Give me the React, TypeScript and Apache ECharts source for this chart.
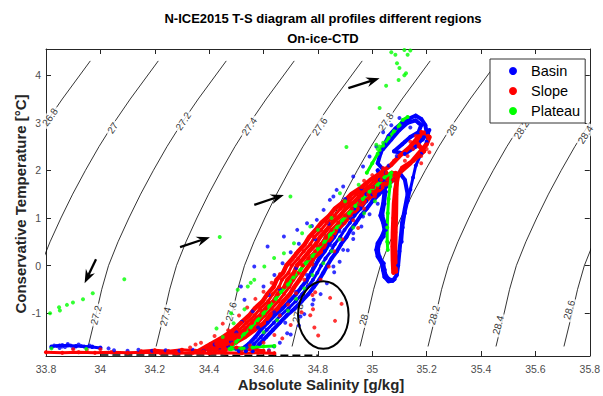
import { useEffect, useRef } from 'react';
import * as echarts from 'echarts';

const FONT = '"Liberation Sans", Arial, Helvetica, sans-serif';
const BLUE = '#0000ff';
const RED = '#ff0000';
const GREEN = '#00ff00';

const titleLines = ['N-ICE2015 T-S diagram all profiles different regions', 'On-ice-CTD'];
const xAxisTitle = 'Absolute Salinity [g/kg]';
const yAxisTitle = 'Conservative Temperature [°C]';
const seriesNames = ['Basin', 'Slope', 'Plateau'];

const xRange = [33.8, 35.8];
const yRange = [-1.9, 4.55];
const xTicks = [33.8, 34, 34.2, 34.4, 34.6, 34.8, 35, 35.2, 35.4, 35.6, 35.8];
const yTicks = [-1, 0, 1, 2, 3, 4];

// isopycnal contours (sigma0): salinity at each temperature of contourT
const contourT = [-1.7, -1.0, -0.5, 0, 0.5, 1, 1.5, 2, 2.5, 3, 3.5, 4.3];
const iso268 = [33.455, 33.485, 33.505, 33.53, 33.565, 33.605, 33.648, 33.695, 33.745, 33.8, 33.86, 33.963];
const iso270 = [33.705, 33.735, 33.755, 33.78, 33.815, 33.855, 33.898, 33.945, 33.995, 34.05, 34.11, 34.213];
const iso272 = [33.955, 33.985, 34.005, 34.03, 34.065, 34.105, 34.148, 34.195, 34.245, 34.3, 34.36, 34.463];
const iso274 = [34.205, 34.235, 34.255, 34.28, 34.315, 34.355, 34.398, 34.445, 34.495, 34.55, 34.61, 34.713];
const iso276 = [34.455, 34.485, 34.505, 34.53, 34.565, 34.605, 34.648, 34.695, 34.745, 34.8, 34.86, 34.963];
const iso278 = [34.705, 34.735, 34.755, 34.78, 34.815, 34.855, 34.898, 34.945, 34.995, 35.05, 35.11, 35.213];
const iso280 = [34.955, 34.985, 35.005, 35.03, 35.065, 35.105, 35.148, 35.195, 35.245, 35.3, 35.36, 35.463];
const iso282 = [35.205, 35.235, 35.255, 35.28, 35.315, 35.355, 35.398, 35.445, 35.495, 35.55, 35.61, 35.713];
const iso284 = [35.455, 35.485, 35.505, 35.53, 35.565, 35.605, 35.648, 35.695, 35.745, 35.8, 35.86, 35.963];
const iso286 = [35.705, 35.735, 35.755, 35.78, 35.815, 35.855, 35.898, 35.945, 35.995, 36.05, 36.11, 36.213];
const isoLines = [iso268, iso270, iso272, iso274, iso276, iso278, iso280, iso282, iso284, iso286];

// contour labels: [text, S, T, rotation in degrees]
const contourLabels: [string, number, number, number][] = [
  ['26.8', 33.815, 3.12, 55],
  ['27', 34.045, 2.89, 56],
  ['27.2', 34.305, 3.03, 56],
  ['27.4', 34.548, 2.92, 56],
  ['27.6', 34.807, 2.92, 56],
  ['27.8', 35.05, 3.02, 56],
  ['28', 35.293, 2.85, 57],
  ['28.2', 35.548, 2.85, 57],
  ['28.4', 35.784, 2.75, 57],
  ['27.2', 33.984, -1.04, 75],
  ['27.4', 34.239, -1.07, 75],
  ['27.6', 34.481, -0.97, 75],
  ['27.8', 34.726, -1.0, 75],
  ['28', 34.968, -1.14, 75],
  ['28.2', 35.227, -1.04, 75],
  ['28.4', 35.463, -1.25, 75],
  ['28.6', 35.724, -0.93, 74],
];

// freezing line (dashed)
const freezingLine = [[34.0, -1.877], [34.8, -1.885]];

// annotations
const arrows = [
  [33.984, 0.134, 33.942, -0.37],
  [34.293, 0.387, 34.403, 0.597],
  [34.566, 1.275, 34.675, 1.485],
  [34.912, 3.727, 35.027, 3.937],
];
const ellipseCenter = [34.82, -1.04];
const ellipseRadius = [0.093, 0.71];

// ---------------- Basin (blue) ----------------
const basinSurfaceBlob = [
  [33.82, -1.72], [33.84, -1.69], [33.86, -1.67], [33.87, -1.71], [33.89, -1.68], [33.91, -1.7],
  [33.93, -1.69], [33.95, -1.71], [33.97, -1.7], [34.0, -1.72], [34.03, -1.74], [33.85, -1.73],
  [33.88, -1.65], [33.9, -1.73], [33.83, -1.68], [33.92, -1.66], [33.96, -1.68], [33.86, -1.7],
];
const basinSurfaceLine = [
  [33.82, -1.7], [33.85, -1.68], [33.88, -1.68], [33.91, -1.69], [33.94, -1.7], [33.97, -1.71], [34.0, -1.73],
];
const basinA = [
  [34.51, -1.8], [34.545, -1.65], [34.57, -1.5], [34.59, -1.35], [34.615, -1.2], [34.64, -1.05], [34.67, -0.9],
  [34.695, -0.75], [34.72, -0.6], [34.74, -0.45], [34.76, -0.3], [34.775, -0.15], [34.79, 0.0], [34.805, 0.15],
  [34.825, 0.3], [34.84, 0.45], [34.86, 0.6], [34.875, 0.75], [34.895, 0.9], [34.912, 1.05], [34.935, 1.2],
  [34.955, 1.35], [34.978, 1.5], [35.003, 1.65], [35.028, 1.8], [35.05, 1.95], [35.02, 2.15], [35.03, 2.35],
  [35.045, 2.55], [35.06, 2.72], [35.085, 2.88], [35.11, 3.0], [35.14, 3.1], [35.16, 3.15], [35.18, 3.08],
  [35.195, 2.95], [35.2, 2.8], [35.185, 2.65],
];
const basinAB = [
  [34.535, -1.8], [34.565, -1.65], [34.59, -1.5], [34.612, -1.35], [34.638, -1.2], [34.662, -1.05], [34.692, -0.9],
  [34.718, -0.75], [34.742, -0.6], [34.762, -0.45], [34.782, -0.3], [34.798, -0.15], [34.812, 0.0], [34.828, 0.15],
  [34.848, 0.3], [34.862, 0.45], [34.882, 0.6], [34.898, 0.75], [34.918, 0.9], [34.935, 1.05], [34.958, 1.2],
  [34.978, 1.35], [35.0, 1.5], [35.027, 1.65], [35.052, 1.8],
];
const basinB = [
  [34.56, -1.8], [34.585, -1.65], [34.61, -1.5], [34.635, -1.35], [34.66, -1.2], [34.685, -1.05], [34.715, -0.9],
  [34.74, -0.75], [34.765, -0.6], [34.785, -0.45], [34.805, -0.3], [34.82, -0.15], [34.835, 0.0], [34.85, 0.15],
  [34.87, 0.3], [34.885, 0.45], [34.905, 0.6], [34.92, 0.75], [34.94, 0.9], [34.958, 1.05], [34.98, 1.2],
  [35.0, 1.35], [35.025, 1.5], [35.05, 1.65], [35.077, 1.8], [35.1, 1.95], [35.12, 1.8], [35.13, 1.5],
  [35.12, 1.2], [35.11, 0.9], [35.105, 0.6], [35.1, 0.3], [35.095, 0.0], [35.09, -0.2], [35.075, -0.32],
  [35.06, -0.33], [35.045, -0.24], [35.04, -0.1], [35.035, 0.05], [35.02, 0.19], [35.015, 0.33], [35.02, 0.47],
  [35.035, 0.61], [35.045, 0.75], [35.04, 0.9], [35.03, 1.05], [35.04, 1.3], [35.045, 1.55], [35.035, 1.8], [35.02, 2.0],
];
const basinWiggle = [
  [35.04, 1.8], [35.05, 1.55], [35.045, 1.3], [35.038, 1.05], [35.05, 0.85], [35.05, 0.75], [35.042, 0.61],
  [35.027, 0.47], [35.022, 0.33], [35.027, 0.19], [35.042, 0.05], [35.046, -0.09], [35.052, -0.22], [35.068, -0.3],
  [35.082, -0.29],
];
const basinTopFill = [
  [35.04, 2.45], [35.07, 2.65], [35.1, 2.85], [35.13, 3.0], [35.16, 3.05], [35.18, 2.95], [35.17, 2.8],
  [35.14, 2.7], [35.11, 2.55], [35.08, 2.4], [35.12, 2.35], [35.16, 2.5], [35.19, 2.7],
];
const basinRight = [
  [35.21, 2.85], [35.2, 2.6], [35.18, 2.35], [35.16, 2.1], [35.15, 1.85], [35.14, 1.6], [35.13, 1.35],
  [35.12, 1.1], [35.112, 0.8], [35.108, 0.5],
];
const basinScatter = [
  [34.517, -0.44], [34.566, -0.02], [34.615, 0.4], [34.675, 0.61], [34.724, 0.75], [34.76, 0.89], [34.821, 1.17],
  [34.857, 1.45], [34.893, 1.66], [34.93, 1.87], [34.966, 2.08], [34.99, 2.29], [35.015, 2.5], [34.48, -1.6],
  [34.5, -1.4], [34.52, -1.18], [34.53, -0.72], [34.56, -0.96], [34.6, -0.44], [34.62, -0.62], [34.64, -0.2],
  [34.67, 0.05], [34.7, 0.28], [34.73, 0.46], [34.778, 0.83], [34.796, 0.96], [34.844, 1.38], [34.869, 1.59],
  [34.857, -0.02], [34.833, -0.37], [34.784, -0.72], [34.736, -1.07], [34.687, -1.42], [34.639, -1.7],
  [34.893, 0.33], [34.93, 0.68], [34.966, 1.03], [35.003, 1.38], [34.62, -1.78], [34.66, -1.62], [34.7, -1.45],
  [34.73, -1.26], [34.75, -1.02], [34.78, -0.82], [34.81, -0.6], [34.86, -0.14], [34.88, 0.08], [34.91, 0.32],
  [34.93, 0.56], [34.96, 0.82], [34.99, 1.08], [35.02, 1.3], [34.68, -1.2], [34.72, -0.55], [34.76, -0.2],
  [34.8, 0.1], [34.85, 0.42], [34.88, 0.72], [34.92, 1.0], [34.95, 1.22], [34.58, -1.3], [34.64, -0.98],
  [34.66, -0.5], [34.72, -0.05], [34.79, 0.55], [34.84, 0.88], [34.9, 1.4], [34.96, 1.62], [35.06, 2.1],
  [35.09, 2.3], [35.12, 2.6], [35.14, 2.9], [35.04, 2.8], [35.07, 2.95], [35.1, 3.1], [35.17, 3.0],
  [34.05, -1.78], [34.1, -1.79], [34.14, -1.77], [34.19, -1.79], [34.24, -1.78], [34.29, -1.79], [34.34, -1.77],
  [34.38, -1.79], [34.44, -1.78], [34.5, -1.76], [34.54, -1.72], [34.47, -1.7], [34.42, -1.66], [34.4, -1.75],
];

// ---------------- Slope (red) ----------------
const slopeSurface = [
  [33.8, -1.82], [33.86, -1.83], [33.92, -1.82], [33.98, -1.83], [34.04, -1.82], [34.1, -1.83], [34.16, -1.82],
  [34.22, -1.83], [34.28, -1.84], [34.34, -1.83], [34.4, -1.84], [34.46, -1.83], [34.52, -1.84], [34.58, -1.83],
  [34.64, -1.84],
];
const slopeSurface2 = [
  [34.15, -1.8], [34.2, -1.78], [34.25, -1.8], [34.3, -1.77], [34.35, -1.79], [34.4, -1.75], [34.45, -1.78],
  [34.5, -1.72], [34.55, -1.76], [34.6, -1.79],
];
const slopeA = [
  [34.36, -1.8], [34.405, -1.65], [34.452, -1.5], [34.49, -1.35], [34.518, -1.2], [34.547, -1.05], [34.568, -0.9],
  [34.597, -0.75], [34.614, -0.6], [34.637, -0.45], [34.648, -0.3], [34.672, -0.15], [34.684, 0.0], [34.707, 0.15],
  [34.728, 0.3], [34.752, 0.45], [34.768, 0.6], [34.792, 0.75], [34.813, 0.9], [34.842, 1.05], [34.863, 1.2],
  [34.897, 1.35], [34.923, 1.5], [34.962, 1.65], [34.993, 1.8], [35.032, 1.95], [35.07, 2.12], [35.1, 2.3],
  [35.14, 2.5], [35.17, 2.7], [35.19, 2.78],
];
const slopeAB = [
  [34.38, -1.8], [34.426, -1.65], [34.47, -1.5], [34.511, -1.35], [34.538, -1.2], [34.567, -1.05], [34.588, -0.9],
  [34.617, -0.75], [34.634, -0.6], [34.657, -0.45], [34.668, -0.3], [34.692, -0.15], [34.704, 0.0], [34.727, 0.15],
  [34.748, 0.3], [34.772, 0.45], [34.788, 0.6], [34.812, 0.75], [34.833, 0.9], [34.862, 1.05], [34.883, 1.2],
  [34.917, 1.35], [34.943, 1.5], [34.982, 1.65], [35.013, 1.8], [35.052, 1.95],
];
const slopeB = [
  [34.4, -1.8], [34.447, -1.65], [34.488, -1.5], [34.532, -1.35], [34.558, -1.2], [34.587, -1.05], [34.608, -0.9],
  [34.637, -0.75], [34.653, -0.6], [34.677, -0.45], [34.688, -0.3], [34.712, -0.15], [34.723, 0.0], [34.747, 0.15],
  [34.768, 0.3], [34.792, 0.45], [34.808, 0.6], [34.832, 0.75], [34.853, 0.9], [34.882, 1.05], [34.903, 1.2],
  [34.937, 1.35], [34.963, 1.5], [35.002, 1.65], [35.033, 1.8], [35.072, 1.95], [35.095, 1.9], [35.085, 1.6],
  [35.08, 1.3], [35.078, 1.0], [35.076, 0.7], [35.075, 0.4], [35.076, 0.1], [35.078, -0.15],
];
const slopeBC = [
  [34.42, -1.8], [34.466, -1.65], [34.51, -1.5], [34.55, -1.35], [34.58, -1.2], [34.605, -1.05], [34.63, -0.9],
  [34.655, -0.75], [34.675, -0.6], [34.695, -0.45], [34.71, -0.3], [34.73, -0.15], [34.745, 0.0], [34.765, 0.15],
  [34.79, 0.3], [34.81, 0.45], [34.83, 0.6], [34.85, 0.75], [34.875, 0.9], [34.9, 1.05], [34.925, 1.2],
  [34.955, 1.35], [34.985, 1.5], [35.02, 1.65], [35.055, 1.8], [35.086, 1.95],
];
const slopeC = [
  [34.44, -1.8], [34.485, -1.65], [34.532, -1.5], [34.568, -1.35], [34.602, -1.2], [34.623, -1.05], [34.652, -0.9],
  [34.673, -0.75], [34.697, -0.6], [34.713, -0.45], [34.732, -0.3], [34.748, -0.15], [34.767, 0.0], [34.783, 0.15],
  [34.812, 0.3], [34.828, 0.45], [34.852, 0.6], [34.868, 0.75], [34.897, 0.9], [34.918, 1.05], [34.947, 1.2],
  [34.973, 1.35], [35.007, 1.5], [35.038, 1.65], [35.077, 1.8], [35.1, 1.95], [35.14, 2.15], [35.17, 2.35],
  [35.2, 2.55], [35.21, 2.7], [35.18, 2.8], [35.16, 2.6], [35.19, 2.4], [35.15, 2.2], [35.11, 2.05], [35.09, 1.85],
  [35.088, 1.5], [35.087, 1.1], [35.085, 0.7], [35.084, 0.3], [35.085, -0.05], [35.087, -0.13],
];
const slopeScatter = [
  [34.3, -1.78], [34.33, -1.72], [34.37, -1.62], [34.4, -1.74], [34.42, -1.48], [34.44, -1.63], [34.47, -1.36],
  [34.45, -1.22], [34.5, -1.45], [34.51, -1.05], [34.53, -1.3], [34.54, -0.88], [34.56, -1.15], [34.57, -0.7],
  [34.59, -0.95], [34.6, -0.55], [34.62, -0.78], [34.63, -0.36], [34.65, -0.6], [34.66, -0.18], [34.68, -0.42],
  [34.69, 0.02], [34.71, -0.22], [34.72, 0.26], [34.74, 0.02], [34.75, 0.44], [34.77, 0.2], [34.78, 0.62],
  [34.8, 0.4], [34.81, 0.86], [34.83, 0.58], [34.85, 1.08], [34.87, 0.8], [34.89, 1.3], [34.91, 1.04],
  [34.93, 1.52], [34.95, 1.28], [34.97, 1.78], [35.0, 1.55], [35.03, 1.95],
  [34.6, -1.62], [34.64, -1.46], [34.669, -1.53], [34.7, -1.25], [34.66, -1.05], [34.74, -0.98], [34.69, -0.82],
  [34.78, -0.62], [34.72, -0.58], [34.81, -0.3], [34.75, -0.3], [34.84, -0.02], [34.78, 0.02], [34.86, 0.3],
  [34.948, 0.79], [34.89, 0.55], [34.93, 0.95], [34.97, 1.2], [35.01, 1.45], [35.05, 1.7],
  [34.39, -1.7], [34.48, -1.55], [34.35, -1.66], [34.43, -1.79], [34.52, -1.78], [34.58, -1.78], [34.62, -1.8],
  [34.55, -1.68], [34.5, -1.62], [34.25, -1.8], [34.2, -1.79], [33.9, -1.76], [33.95, -1.77], [34.0, -1.76],
  [35.14, 2.6], [35.16, 2.72], [35.19, 2.8], [35.21, 2.68], [35.2, 2.45], [35.18, 2.3], [35.22, 2.55],
  [35.15, 2.45], [35.13, 2.3], [35.17, 2.5], [35.21, 2.38], [35.18, 2.15], [35.12, 2.2], [35.08, 2.2],
  [35.04, 2.05], [35.0, 1.9], [34.96, 1.65], [34.92, 1.42],
  [34.79, -0.559], [34.845, -0.679], [34.887, -0.805], [34.782, -0.916], [34.772, -1.042], [34.863, -1.162],
  [34.787, -1.303], [34.801, -1.471],
];

// ---------------- Plateau (green) ----------------
const plateauA = [
  [34.475, -1.75], [34.5, -1.6], [34.527, -1.45], [34.553, -1.3], [34.578, -1.15], [34.6, -1.0], [34.622, -0.85],
  [34.645, -0.7], [34.665, -0.55], [34.69, -0.4], [34.71, -0.25], [34.735, -0.1], [34.755, 0.05], [34.78, 0.2],
  [34.8, 0.35], [34.825, 0.5], [34.845, 0.65], [34.87, 0.8], [34.89, 0.95], [34.915, 1.1], [34.938, 1.25],
  [34.965, 1.4], [34.99, 1.55], [35.02, 1.7], [35.045, 1.85], [35.07, 1.95], [35.065, 1.66], [35.06, 1.4],
  [35.057, 1.1], [35.055, 0.8], [35.055, 0.5], [35.057, 0.33],
];
const plateauBottom = [[34.48, -1.76], [34.52, -1.74], [34.56, -1.72], [34.6, -1.7], [34.64, -1.69]];
const plateauTop = [
  [34.98, 1.95], [35.0, 2.15], [35.02, 2.35], [35.04, 2.52], [35.06, 2.68], [35.08, 2.82], [35.1, 2.95],
  [35.112, 3.06], [35.13, 3.12],
];
const plateauScatter = [
  [33.815, -1.0], [33.848, -0.874], [33.851, -0.945], [33.877, -0.826], [33.899, -0.777], [33.936, -0.706],
  [33.972, -0.58], [34.088, -0.286], [33.82, -1.74], [33.948, -1.75],
  [34.439, 0.6], [34.699, 1.45], [34.905, 2.49], [35.015, 2.54], [35.027, 3.31], [35.051, 3.78], [35.085, 4.43],
  [35.118, 4.53], [35.13, 4.43], [35.091, 4.25], [35.1, 4.15], [35.124, 4.04], [35.118, 4.0], [35.097, 3.9],
  [35.07, 4.48], [35.14, 4.52], [35.02, 2.45], [35.04, 2.58], [35.027, 2.5],
  [34.481, -1.0], [34.542, -0.44], [34.603, -0.02], [34.675, 0.26], [34.772, 0.82], [34.881, 1.52],
  [34.45, -1.5], [34.49, -1.21], [34.53, -0.92], [34.505, -0.51], [34.553, -0.36], [34.566, -0.3],
  [34.639, 0.16], [34.712, 0.47], [34.742, 0.68], [34.427, -1.32], [34.6, -1.4], [34.65, -1.15],
  [34.69, -0.95], [34.72, -0.7], [34.75, -0.48], [34.78, -0.2], [34.82, 0.05], [34.85, 0.3], [34.88, 0.55],
  [34.93, 0.8], [34.97, 1.1], [35.01, 1.35], [34.8, 0.75], [34.85, 1.0], [34.9, 1.35], [34.95, 1.7],
];

function profile(name: string, color: string, data: number[][], width: number) {
  return {
    type: 'line', name, data, z: 3, symbol: 'circle', symbolSize: 4, showSymbol: true, showAllSymbol: true,
    lineStyle: { width, color, cap: 'round', join: 'round' }, itemStyle: { color }, silent: true,
  };
}
function dots(name: string, color: string, data: number[][]) {
  return { type: 'scatter', name, data, z: 3, symbolSize: 4, itemStyle: { color }, silent: true };
}

export default function App() {
  const ref = useRef<HTMLDivElement>(null);
  useEffect(() => {
    if (!ref.current) return;
    const chart = echarts.init(ref.current, undefined, { renderer: 'svg' });
    const axisColor = '#262626';
    const labelColor = '#4d4d4d';
    const fmt = (v: number) => String(Math.round(v * 10) / 10);
    const xAxisBase = {
      type: 'value', min: xRange[0], max: xRange[1], splitLine: { show: false },
      axisLine: { show: true, onZero: false, lineStyle: { color: axisColor, width: 1 } },
      axisTick: { show: true, inside: true, length: 5, customValues: xTicks, lineStyle: { color: axisColor } },
    };
    const yAxisBase = {
      type: 'value', min: yRange[0], max: yRange[1], splitLine: { show: false },
      axisLine: { show: true, onZero: false, lineStyle: { color: axisColor, width: 1 } },
      axisTick: { show: true, inside: true, length: 5, customValues: yTicks, lineStyle: { color: axisColor } },
    };

    const contourSeries = isoLines.map((arr) => ({
      type: 'line', data: arr.map((s, i) => [s, contourT[i]]), z: 1, symbol: 'none', silent: true,
      lineStyle: { color: '#000', width: 0.8 }, clip: true,
    }));

    const labelSeries = {
      type: 'scatter', z: 2, symbolSize: 1, silent: true, itemStyle: { color: 'rgba(0,0,0,0)' },
      data: contourLabels.map(([t, s, temp, rot]) => ({ name: t, value: [s, temp], label: { rotate: rot } })),
      label: {
        show: true, position: 'inside', formatter: '{b}', color: '#000', fontSize: 10, fontFamily: FONT,
        backgroundColor: '#fff', padding: [0, 2],
      },
    };

    const option = {
      animation: false,
      backgroundColor: '#fff',
      grid: { left: 46, right: 7, top: 49, bottom: 40, containLabel: false },
      legend: {
        data: seriesNames, left: 490, top: 59, orient: 'vertical', padding: [2, 5, 2, 19], itemGap: 0,
        itemWidth: 8, itemHeight: 8, icon: 'circle', backgroundColor: '#fff', borderColor: '#333', borderWidth: 1,
        borderRadius: 0, z: 10, selectedMode: false,
        textStyle: { fontSize: 14.5, lineHeight: 20, color: '#000', fontFamily: FONT, padding: [0, 0, 0, 9] },
      },
      xAxis: [
        { ...xAxisBase, position: 'bottom',
          axisLabel: { show: true, customValues: xTicks, formatter: fmt, color: labelColor, fontSize: 10.5, fontFamily: FONT, margin: 7 } },
        { ...xAxisBase, position: 'top', axisLabel: { show: false } },
      ],
      yAxis: [
        { ...yAxisBase, position: 'left',
          axisLabel: { show: true, customValues: yTicks, formatter: fmt, color: labelColor, fontSize: 10.5, fontFamily: FONT, margin: 5 } },
        { ...yAxisBase, position: 'right', axisLabel: { show: false } },
      ],
      series: [
        ...contourSeries,
        { type: 'line', data: freezingLine, z: 1, symbol: 'none', silent: true,
          lineStyle: { color: '#000', width: 1.5, type: [8, 4] } },
        labelSeries,
        profile('Basin', BLUE, basinSurfaceLine, 3),
        dots('Basin', BLUE, basinSurfaceBlob),
        profile('Basin', BLUE, basinA, 4),
        profile('Basin', BLUE, basinAB, 3),
        profile('Basin', BLUE, basinB, 4),
        profile('Basin', BLUE, basinWiggle, 3),
        profile('Basin', BLUE, basinTopFill, 4),
        profile('Basin', BLUE, basinRight, 3),
        dots('Basin', BLUE, basinScatter),
        profile('Slope', RED, slopeSurface, 3),
        profile('Slope', RED, slopeSurface2, 3),
        profile('Slope', RED, slopeA, 4.5),
        profile('Slope', RED, slopeAB, 3),
        profile('Slope', RED, slopeB, 4.5),
        profile('Slope', RED, slopeBC, 3),
        profile('Slope', RED, slopeC, 4.5),
        dots('Slope', RED, slopeScatter),
        profile('Plateau', GREEN, plateauA, 3),
        profile('Plateau', GREEN, plateauBottom, 3),
        profile('Plateau', GREEN, plateauTop, 3),
        dots('Plateau', GREEN, plateauScatter),
      ],
    };
    chart.setOption(option as any);

    const px = (s: number, t: number) => chart.convertToPixel({ xAxisIndex: 0, yAxisIndex: 0 }, [s, t]) as number[];
    const graphics: any[] = [];
    graphics.push({ type: 'text', x: 323, y: 18, z: 100, style: { text: titleLines[0], textAlign: 'center', textVerticalAlign: 'middle', font: `bold 13px ${FONT}`, fill: '#000' } });
    graphics.push({ type: 'text', x: 323, y: 38, z: 100, style: { text: titleLines[1], textAlign: 'center', textVerticalAlign: 'middle', font: `bold 13px ${FONT}`, fill: '#000' } });
    graphics.push({ type: 'text', x: 321, y: 384, z: 100, style: { text: xAxisTitle, textAlign: 'center', textVerticalAlign: 'middle', font: `bold 15px ${FONT}`, fill: '#262626' } });
    graphics.push({ type: 'text', x: 20, y: 204, rotation: Math.PI / 2, z: 100, style: { text: yAxisTitle, textAlign: 'center', textVerticalAlign: 'middle', font: `bold 15px ${FONT}`, fill: '#262626' } });

    const [ecx, ecy] = px(ellipseCenter[0], ellipseCenter[1]);
    const [erx] = px(ellipseCenter[0] + ellipseRadius[0], ellipseCenter[1]);
    const [, ery] = px(ellipseCenter[0], ellipseCenter[1] + ellipseRadius[1]);
    graphics.push({ type: 'ellipse', z: 100, shape: { cx: ecx, cy: ecy, rx: Math.abs(erx - ecx), ry: Math.abs(ecy - ery) }, style: { fill: 'none', stroke: '#000', lineWidth: 2 } });

    arrows.forEach((a) => {
      const [x0, y0] = px(a[0], a[1]);
      const [x1, y1] = px(a[2], a[3]);
      const dx = x1 - x0, dy = y1 - y0;
      const len = Math.hypot(dx, dy);
      const ux = dx / len, uy = dy / len;
      const nx = -uy, ny = ux;
      const L = 12, W = 5;
      const bx = x1 - ux * L, by = y1 - uy * L;
      graphics.push({ type: 'line', z: 100, shape: { x1: x0, y1: y0, x2: bx + ux * 3, y2: by + uy * 3 }, style: { stroke: '#000', lineWidth: 2.3 } });
      graphics.push({ type: 'polygon', z: 100, shape: { points: [[x1, y1], [bx + nx * W - ux * 1.5, by + ny * W - uy * 1.5], [bx + ux * 3, by + uy * 3], [bx - nx * W - ux * 1.5, by - ny * W - uy * 1.5]] }, style: { fill: '#000' } });
    });
    chart.setOption({ graphic: graphics });

    return () => chart.dispose();
  }, []);
  return <div ref={ref} style={{ position: 'fixed', left: 0, top: 0, width: 603, height: 396, background: '#fff' }} />;
}
